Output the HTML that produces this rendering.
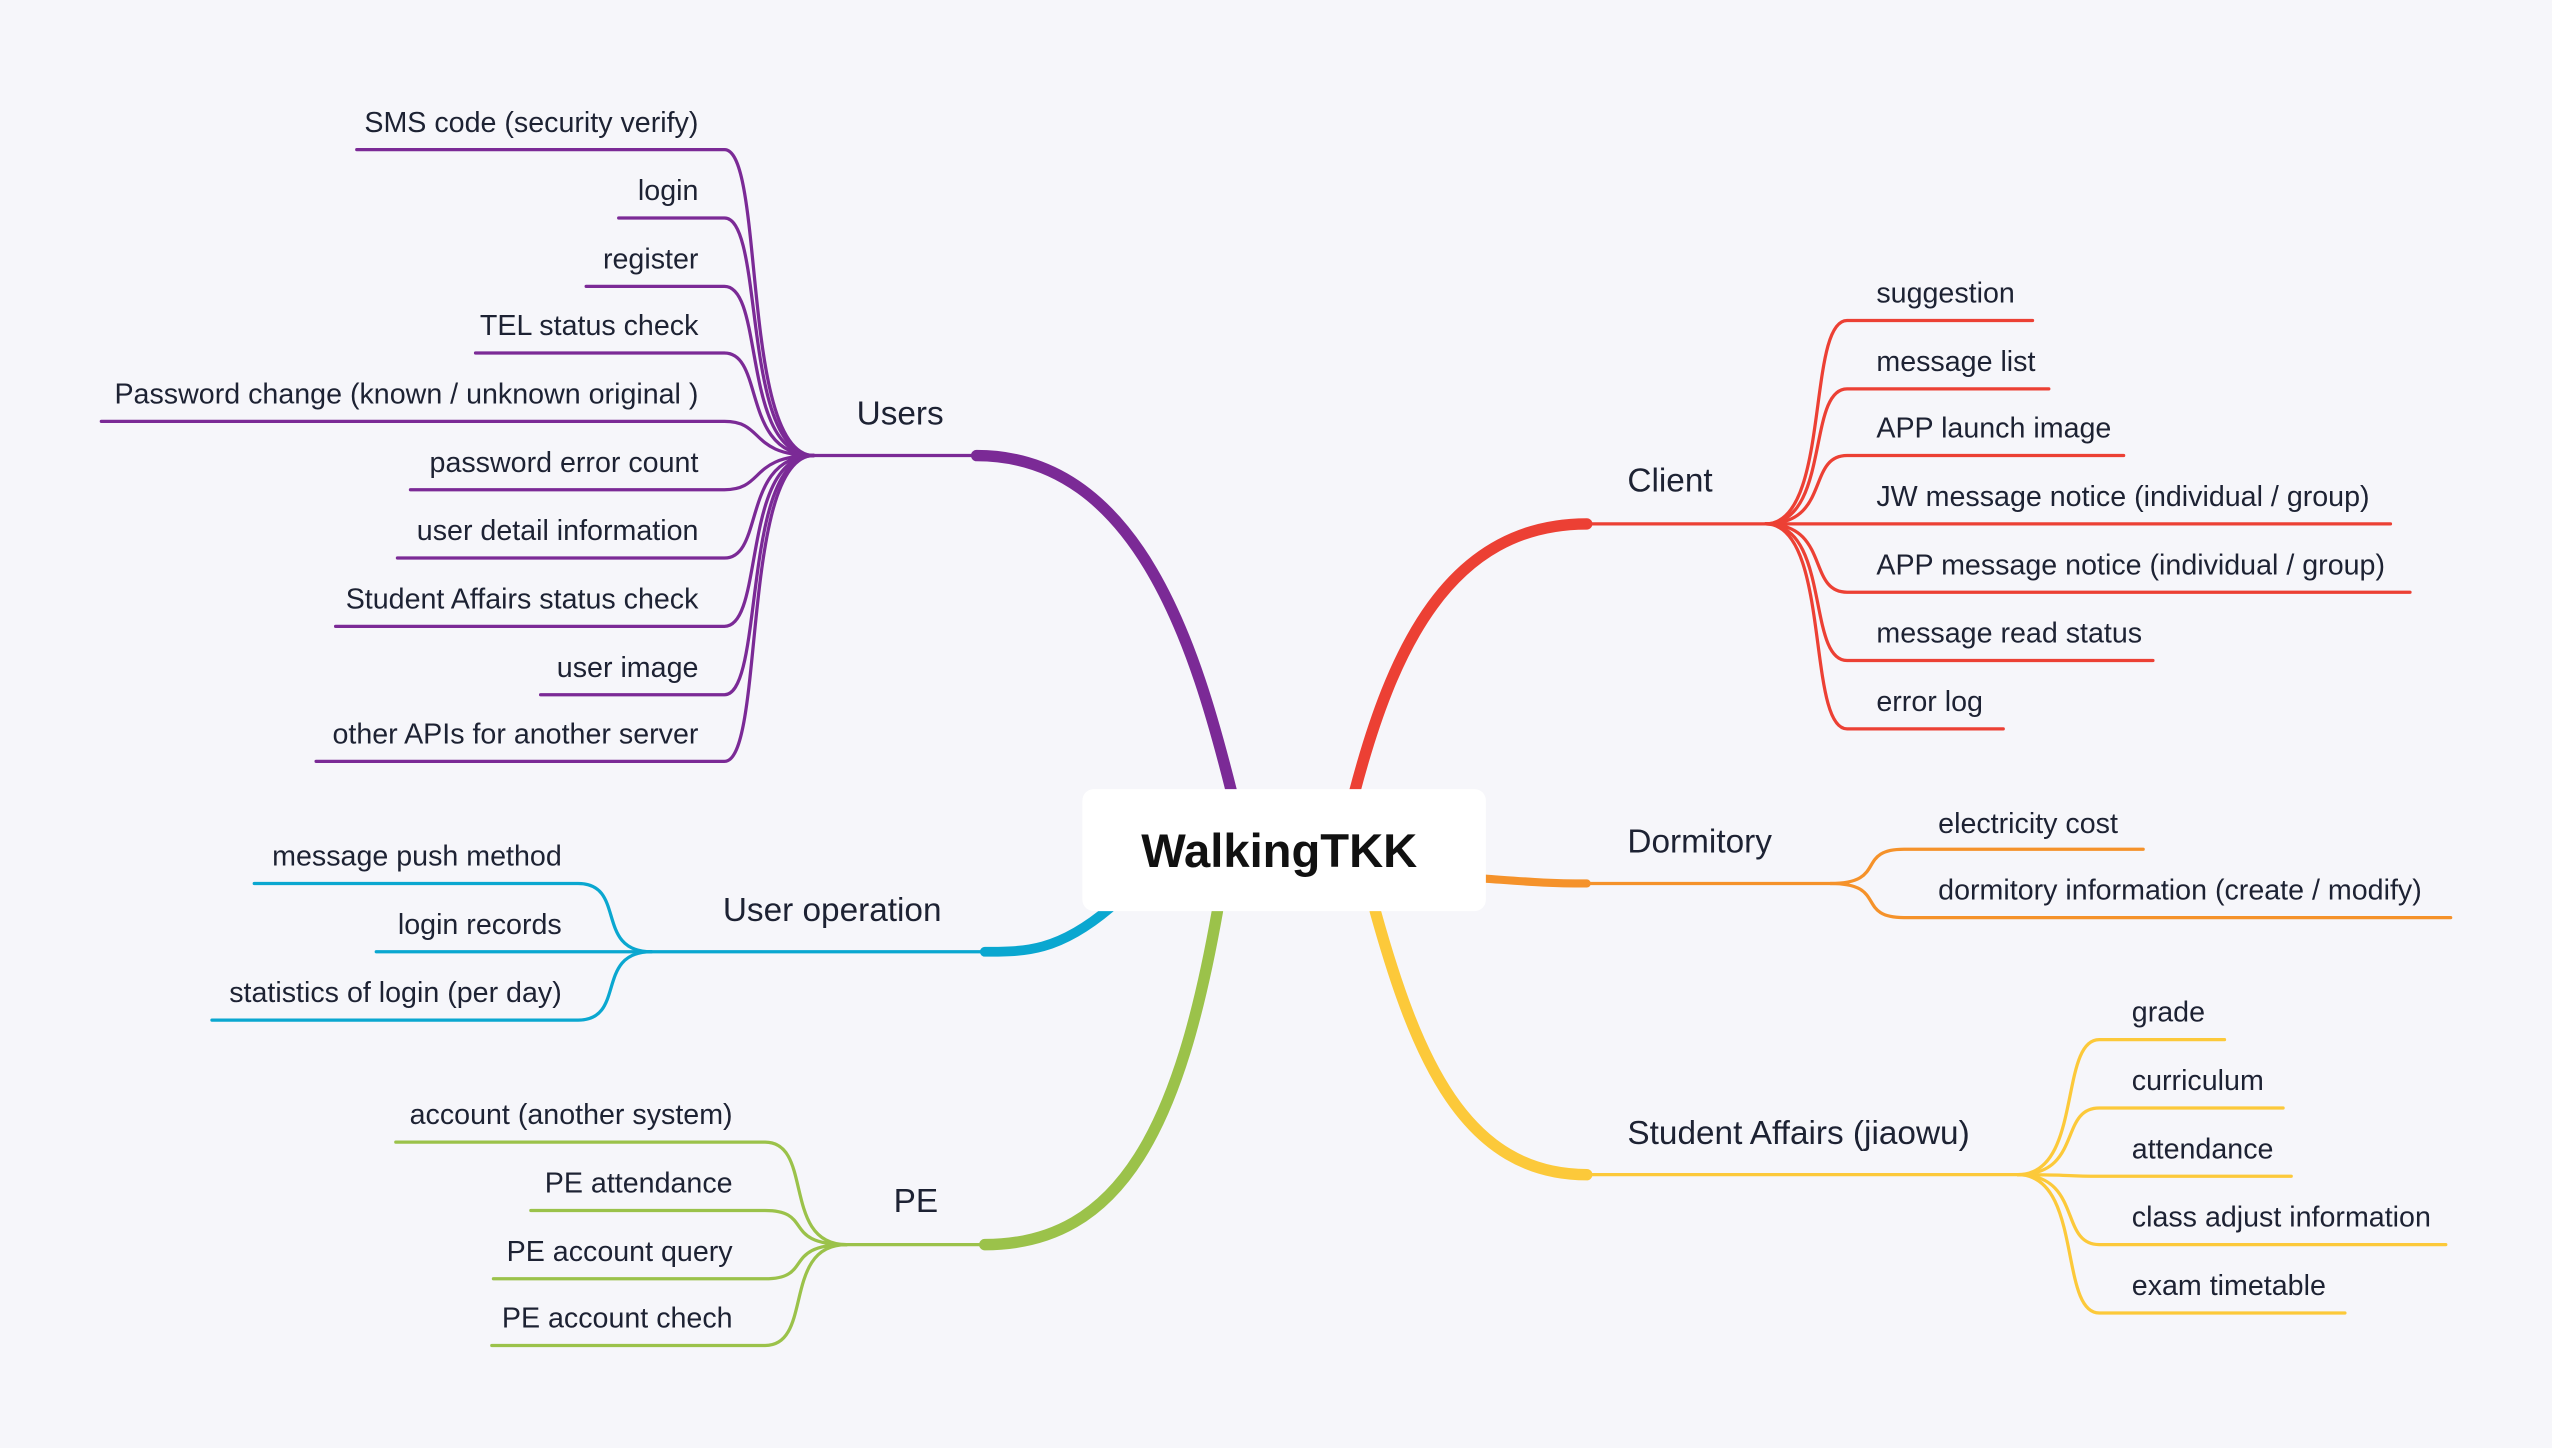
<!DOCTYPE html>
<html><head><meta charset="utf-8"><style>
html,body{margin:0;padding:0;background:#f6f6fa;}
svg{display:block}
text{font-family:"Liberation Sans",sans-serif;fill:#1d2233;font-size:17.6px}
.r{text-anchor:end}
.b{font-size:20.5px}
</style></head><body>
<svg width="2552" height="1448" viewBox="0 0 1568 890" xmlns="http://www.w3.org/2000/svg">
<rect width="1568" height="890" fill="#f6f6fa"/>
<g fill="none" stroke-linecap="round">
<g stroke="#7b2a96" stroke-width="2">
<path d="M600 280 H500"/>
<path d="M600 280 C700 280 735 400 757 488" stroke-width="7"/>
<path d="M219 92 H445 C470 92 455 280 500 280"/>
<path d="M380 134 H445 C470 134 455 280 500 280"/>
<path d="M360 176 H445 C470 176 455 280 500 280"/>
<path d="M292 217 H445 C470 217 455 280 500 280"/>
<path d="M62 259 H445 C470 259 460 280 500 280"/>
<path d="M252 301 H445 C470 301 460 280 500 280"/>
<path d="M244 343 H445 C470 343 455 280 500 280"/>
<path d="M206 385 H445 C470 385 455 280 500 280"/>
<path d="M332 427 H445 C470 427 455 280 500 280"/>
<path d="M194 468 H445 C470 468 455 280 500 280"/>
</g>
<g stroke="#ec4034" stroke-width="2">
<path d="M975 322 H1085"/>
<path d="M832 488 C855 400 890 322 975 322" stroke-width="7"/>
<path d="M1085 322 C1125 322 1110 197 1135 197 H1249"/>
<path d="M1085 322 C1125 322 1110 239 1135 239 H1259"/>
<path d="M1085 322 C1125 322 1110 280 1135 280 H1305"/>
<path d="M1085 322 H1469"/>
<path d="M1085 322 C1125 322 1110 364 1135 364 H1481"/>
<path d="M1085 322 C1125 322 1110 406 1135 406 H1323"/>
<path d="M1085 322 C1125 322 1110 448 1135 448 H1231"/>
</g>
<g stroke="#f5922a" stroke-width="2">
<path d="M912 540 C940 542 950 543 975 543" stroke-width="5"/>
<path d="M975 543 H1125"/>
<path d="M1125 543 C1160 543 1140 522 1170 522 H1317"/>
<path d="M1125 543 C1160 543 1140 564 1170 564 H1506"/>
</g>
<g stroke="#fcc93a" stroke-width="2">
<path d="M845 560 C870 650 900 722 975 722" stroke-width="7"/>
<path d="M975 722 H1240"/>
<path d="M1240 722 C1280 722 1265 639 1290 639 H1367"/>
<path d="M1240 722 C1280 722 1265 681 1290 681 H1403"/>
<path d="M1240 722 C1280 722 1265 723 1290 723 H1408"/>
<path d="M1240 722 C1280 722 1265 765 1290 765 H1503"/>
<path d="M1240 722 C1280 722 1265 807 1290 807 H1441"/>
</g>
<g stroke="#0aa7d0" stroke-width="2">
<path d="M682 558 C650 585 630 585 605 585" stroke-width="6"/>
<path d="M605 585 H400"/>
<path d="M400 585 C365 585 385 543 355 543 H156"/>
<path d="M400 585 H231"/>
<path d="M400 585 C365 585 385 627 355 627 H130"/>
</g>
<g stroke="#9bc24a" stroke-width="2">
<path d="M748 560 C725 690 690 765 605 765" stroke-width="7"/>
<path d="M605 765 H520"/>
<path d="M520 765 C480 765 500 702 470 702 H243"/>
<path d="M520 765 C480 765 500 744 470 744 H326"/>
<path d="M520 765 C480 765 500 786 470 786 H303"/>
<path d="M520 765 C480 765 500 827 470 827 H302"/>
</g>
</g>
<rect x="665" y="485" width="248" height="75" rx="7" fill="#fff"/>
<text x="786" y="533" text-anchor="middle" style="font-size:29px;font-weight:bold;fill:#111">WalkingTKK</text>
<text class="b" x="553" y="261" text-anchor="middle">Users</text>
<text class="b" x="1000" y="302">Client</text>
<text class="b" x="1000" y="524">Dormitory</text>
<text class="b" x="1000" y="703">Student Affairs (jiaowu)</text>
<text class="b" x="444" y="566">User operation</text>
<text class="b" x="549" y="745">PE</text>
<text class="r" x="429" y="81">SMS code (security verify)</text>
<text class="r" x="429" y="123">login</text>
<text class="r" x="429" y="165">register</text>
<text class="r" x="429" y="206">TEL status check</text>
<text class="r" x="429" y="248">Password change (known / unknown original )</text>
<text class="r" x="429" y="290">password error count</text>
<text class="r" x="429" y="332">user detail information</text>
<text class="r" x="429" y="374">Student Affairs status check</text>
<text class="r" x="429" y="416">user image</text>
<text class="r" x="429" y="457">other APIs for another server</text>
<text class="r" x="345" y="532">message push method</text>
<text class="r" x="345" y="574">login records</text>
<text class="r" x="345" y="616">statistics of login (per day)</text>
<text class="r" x="450" y="691">account (another system)</text>
<text class="r" x="450" y="733">PE attendance</text>
<text class="r" x="450" y="775">PE account query</text>
<text class="r" x="450" y="816">PE account chech</text>
<text x="1153" y="186">suggestion</text>
<text x="1153" y="228">message list</text>
<text x="1153" y="269">APP launch image</text>
<text x="1153" y="311">JW message notice (individual / group)</text>
<text x="1153" y="353">APP message notice  (individual / group)</text>
<text x="1153" y="395">message read status</text>
<text x="1153" y="437">error log</text>
<text x="1191" y="512">electricity cost</text>
<text x="1191" y="553">dormitory information (create / modify)</text>
<text x="1310" y="628">grade</text>
<text x="1310" y="670">curriculum</text>
<text x="1310" y="712">attendance</text>
<text x="1310" y="754">class adjust information</text>
<text x="1310" y="796">exam timetable</text>
</svg>
</body></html>
